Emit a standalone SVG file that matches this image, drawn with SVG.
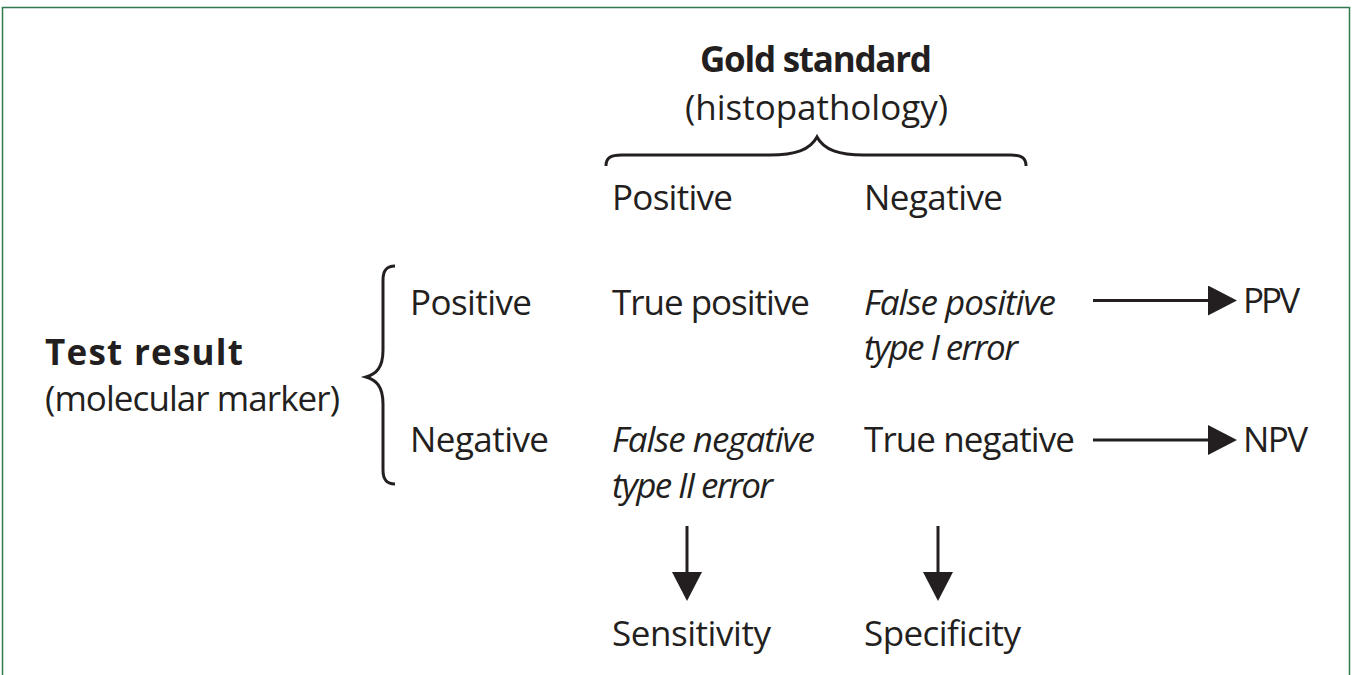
<svg xmlns="http://www.w3.org/2000/svg" width="1352" height="675" viewBox="0 0 1352 675">
  <style>
    .t { font-family: "Open Sans", "Noto Sans", "Liberation Sans", sans-serif; font-size: 35px; fill: #231f20; }
    .b { font-weight: bold; }
    .i { font-style: italic; }
    .ln { stroke: #231f20; stroke-width: 3; fill: none; }
  </style>
  <defs>
    <marker id="ah" markerUnits="userSpaceOnUse" markerWidth="30" markerHeight="30" viewBox="0 0 28 29" refX="0" refY="14.5" orient="auto">
      <path d="M0,0 L28,14.5 L0,29 Z" fill="#231f20"/>
    </marker>
  </defs>
  <rect width="1352" height="675" fill="#ffffff"/>
  <path d="M2.5,680 L2.5,7.5 L1349.5,7.5 L1349.5,680" fill="none" stroke="#2e7a4c" stroke-width="1.5"/>

  <g id="gold-standard">
    <text class="t b" x="700" y="72" textLength="232">Gold standard</text>
    <text class="t" x="685" y="120" textLength="263">(histopathology)</text>
    <path class="ln" d="M606,166 C606,158 610,155 622,155 L770,155 C795,155 810,150 817,137 C824,150 839,155 864,155 L1010,155 C1022,155 1026,158 1026,166"/>
  </g>
  <g id="col-positive"><text class="t" x="612" y="210" textLength="121">Positive</text></g>
  <g id="col-negative"><text class="t" x="864" y="210" textLength="139">Negative</text></g>

  <g id="test-result">
    <text class="t b" x="45" y="365" textLength="198">Test result</text>
    <text class="t" x="45" y="411" textLength="295">(molecular marker)</text>
    <path class="ln" d="M395,266 C387,266 383,270 383,280 L383,350 C383,368 376,374 366,377 C376,380 383,386 383,404 L383,470 C383,480 387,484 395,484"/>
  </g>
  <g id="row-positive"><text class="t" x="410" y="315" textLength="122">Positive</text></g>
  <g id="row-negative"><text class="t" x="410" y="452" textLength="139">Negative</text></g>

  <g id="true-positive"><text class="t" x="612" y="315" textLength="198">True positive</text></g>
  <g id="false-positive">
    <text class="t i" x="864" y="315" textLength="192">False positive</text>
    <text class="t i" x="864" y="360" textLength="154">type I error</text>
  </g>
  <g id="false-negative">
    <text class="t i" x="612" y="452" textLength="203">False negative</text>
    <text class="t i" x="612" y="498" textLength="161">type II error</text>
  </g>
  <g id="true-negative"><text class="t" x="864" y="452" textLength="211">True negative</text></g>

  <g id="ppv"><text class="t" x="1243" y="313" textLength="57">PPV</text></g>
  <g id="npv"><text class="t" x="1243" y="452" textLength="65">NPV</text></g>
  <g id="sensitivity"><text class="t" x="612" y="646" textLength="159">Sensitivity</text></g>
  <g id="specificity"><text class="t" x="864" y="646" textLength="157">Specificity</text></g>

  <g id="connectors">
    <line class="ln" x1="1093" y1="300.5" x2="1208" y2="300.5" marker-end="url(#ah)"/>
    <line class="ln" x1="1093" y1="440" x2="1208" y2="440" marker-end="url(#ah)"/>
    <line class="ln" x1="687" y1="526" x2="687" y2="572" marker-end="url(#ah)"/>
    <line class="ln" x1="938" y1="526" x2="938" y2="572" marker-end="url(#ah)"/>
  </g>
</svg>
